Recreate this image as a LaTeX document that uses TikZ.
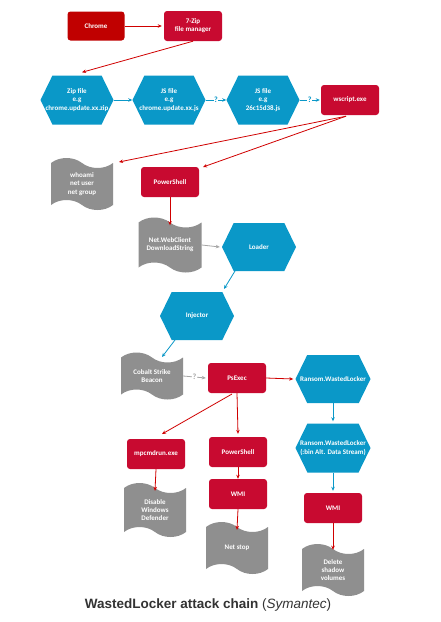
\documentclass[tikz,border=0pt]{standalone}
\usepackage{fontspec}
\setmainfont{Carlito}
\newfontfamily\capfont{Liberation Sans}
\usetikzlibrary{shapes.symbols,shapes.geometric,arrows.meta,calc}
\definecolor{cdark}{HTML}{C00000}
\definecolor{cred}{HTML}{C80A30}
\definecolor{cblue}{HTML}{0A98C8}
\definecolor{cgrey}{HTML}{8F8F8F}
\definecolor{aline}{HTML}{D00000}
\definecolor{gline}{HTML}{A6A6A6}
\definecolor{captxt}{HTML}{333333}
\begin{document}
\begin{tikzpicture}[x=1pt,y=-1pt,
 txt/.style={text=white,font=\fontsize{7}{8.2}\selectfont\bfseries,align=center,inner sep=0pt},
 redbox/.style={txt,fill=cred,rounded corners=3pt,minimum width=58pt,minimum height=30pt},
 hexa/.style={txt,fill=cblue,signal,signal to=east and west,signal pointer angle=128,inner xsep=-8pt,minimum width=73pt,minimum height=49pt},
 tapebox/.style={txt,fill=cgrey,tape,tape bend top=out and in,tape bend bottom=out and in,tape bend height=10pt,minimum width=62pt},
 rarrow/.style={draw=aline,line width=0.8pt,-{Stealth[length=4pt,width=3.5pt]}},
 barrow/.style={draw=cblue,line width=0.8pt,-{Stealth[length=4pt,width=3.5pt]}},
 garrow/.style={draw=gline,line width=0.8pt,-{Stealth[length=4pt,width=3.5pt]}},
 qlab/.style={fill=white,inner sep=0.6pt,font=\fontsize{8}{9}\selectfont\bfseries}
]
\useasboundingbox[fill=white] (0,0) rectangle (441,622);

% nodes
\node[redbox,fill=cdark,minimum width=57pt,minimum height=29pt] (chrome) at (96,26) {Chrome};
\node[redbox] (zip7) at (193,26) {7-Zip\\file manager};
\node[hexa] (zipf) at (77,100) {Zip file\\e.g\\chrome.update.xx.zip};
\node[hexa] (js1) at (169,100) {JS file\\e.g\\chrome.update.xx.js};
\node[hexa] (js2) at (263,100) {JS file\\e.g\\26c15d38.js};
\node[redbox] (wscript) at (350,100) {wscript.exe};
\node[tapebox,minimum height=52pt] (whoami) at (82,184) {whoami\\net user\\net group};
\node[redbox] (ps1) at (170,182) {PowerShell};
\node[tapebox,minimum width=63pt,minimum height=55pt] (netwc) at (170,245) {Net.WebClient\\DownloadString};
\node[hexa,minimum width=74pt,minimum height=48pt] (loader) at (259,247) {Loader};
\node[hexa,minimum width=74pt,minimum height=48pt] (injector) at (197,316) {Injector};
\node[tapebox,minimum height=47pt] (cobalt) at (152,376) {Cobalt Strike\\Beacon};
\node[redbox] (psexec) at (237,378) {PsExec};
\node[hexa,minimum width=75pt,minimum height=48pt] (ransom1) at (333,379) {Ransom.WastedLocker};
\node[hexa,minimum width=75pt,minimum height=49pt] (ransom2) at (333,448) {Ransom.WastedLocker\\(:bin Alt. Data Stream)};
\node[redbox] (wmi2) at (333,508) {WMI};
\node[tapebox,minimum height=52pt] (delete) at (333,570) {Delete\\shadow\\volumes};
\node[redbox] (mpc) at (156,454) {mpcmdrun.exe};
\node[tapebox,minimum height=54pt] (disable) at (155,510) {Disable\\Windows\\Defender};
\node[redbox] (ps2) at (238,452) {PowerShell};
\node[redbox] (wmi1) at (238,494) {WMI};
\node[tapebox,minimum height=52pt] (netstop) at (237,548) {Net stop};

\node[text=captxt,inner sep=0pt,font=\capfont\fontsize{13.5}{16}\selectfont] (caption) at (208,605)
  {\bfseries WastedLocker attack chain \mdseries(\itshape Symantec\/\upshape)};

% connectors
\draw[rarrow] (chrome.east) -- ([xshift=-2pt]zip7.west);
\draw[rarrow] (zip7.south) -- ($(zipf.north)+(5,-3)$);
\draw[barrow] (zipf.east) -- (js1.west);
\draw[barrow] (js1.east) -- node[qlab,text=cblue] {?} (js2.west);
\draw[barrow] (js2.east) -- node[qlab,text=cblue] {?} ([xshift=-1pt]wscript.west);
\coordinate (wsout) at ($(wscript.south)+(-4,1)$);
\draw[rarrow] (wsout) -- ($(whoami.center)+(37,-22)$);
\draw[rarrow] (wsout) -- ($(ps1.center)+(33,-15)$);
\draw[rarrow] (ps1.south) -- ($(netwc.north)+(0,3)$);
\draw[garrow] (netwc.east) -- ([xshift=-2pt]loader.west);
\draw[barrow] ($(loader.center)+(-24,24)$) -- ($(injector.center)+(27,-27)$);
\draw[barrow] ($(injector.center)+(-22,24)$) -- ($(cobalt.center)+(10,-19)$);
\draw[garrow] (cobalt.east) -- node[qlab,text=gline] {?} ([xshift=-2pt]psexec.west);
\draw[rarrow] (psexec.east) -- ([xshift=-2pt]ransom1.west);
\draw[barrow] (ransom1.south) -- ([yshift=2pt]ransom2.north);
\draw[barrow] (ransom2.south) -- ([yshift=2pt]wmi2.north);
\draw[rarrow] (wmi2.south) -- ($(delete.north)+(0,1)$);
\draw[rarrow] ($(psexec.center)+(-5,16)$) -- ($(mpc.center)+(6,-20)$);
\draw[rarrow] (psexec.south) -- ([yshift=3pt]ps2.north);
\draw[rarrow] (ps2.south) -- (wmi1.north);
\draw[rarrow] (wmi1.south) -- ($(netstop.north)+(0,3)$);
\draw[rarrow] (mpc.south) -- ($(disable.north)+(0,3)$);
\end{tikzpicture}
\end{document}
